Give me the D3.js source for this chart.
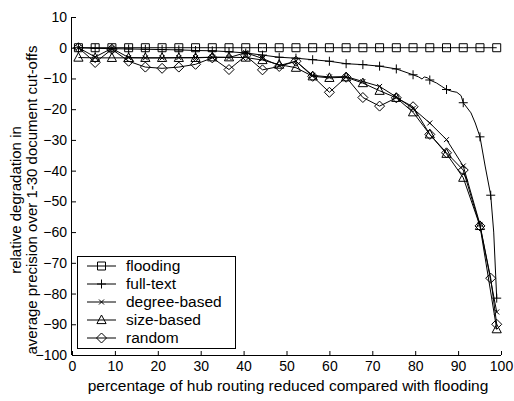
<!DOCTYPE html>
<html lang="en">
<head>
  <meta charset="UTF-8">
  <title>Relative degradation vs hub routing reduction</title>
  <script src="https://d3js.org/d3.v7.min.js"></script>
  <style>
    body {
      margin: 0;
      padding: 0;
      background: #fff;
      font-family: "Liberation Sans", Arial, sans-serif;
    }
    .axis text {
      font-family: "Liberation Sans", Arial, sans-serif;
      font-size: 14px;
      fill: #000;
    }
    .axis path, .axis line {
      stroke: #000;
    }
    .label {
      font-size: 15.5px;
      fill: #000;
    }
  </style>
</head>
<body>
  <div id="chart"></div>

  <script>
    // x positions of the plotted points (percentage of hub routing reduced)
    const xs = [1.5, 5.4, 9.3, 13.2, 17.1, 21, 24.9, 28.8, 32.7, 36.6, 40.5, 44.4, 48.3,
                52.2, 56.1, 60, 63.9, 67.8, 71.7, 75.6, 79.5, 83.4, 87.3, 91.2, 95.1, 99];
    const xsTail = [1.5, 5.4, 9.3, 13.2, 17.1, 21, 24.9, 28.8, 32.7, 36.6, 40.5, 44.4, 48.3,
                    52.2, 56.1, 60, 63.9, 67.8, 71.7, 75.6, 79.5, 83.4, 87.3, 91.2, 95.1, 97.6, 99];

    const flooding = [0, 0, 0, 0, 0, 0, 0, 0, 0, 0, 0, 0, 0, 0, 0, 0, 0, 0, 0, 0, 0, 0, 0, 0, 0, 0];
    const fullText = [0, -0.2, -0.3, -0.4, -0.5, -0.6, -0.7, -0.9, -1.0, -1.3, -1.7, -2.4, -3.1,
                      -3.4, -3.9, -4.4, -5.2, -5.5, -6.0, -6.9, -8.8, -10.5, -13.6, -17.9, -29, -48, -81.5];
    // unmarked bends of the full-text curve
    const fullTextBendX = [80.8, 81.6, 82.1, 82.9, 85, 86.2, 88.6, 89.7, 90.7, 93, 94, 96.3, 98.3];
    const fullTextBendY = [-9.5, -10.2, -9.5, -9.8, -11.5, -12.6, -14.2, -14.5, -15.6, -21.2, -24.5, -38.5, -60];
    const degreeBased = [0, -3.0, -0.2, -3.2, -3.3, -3.3, -3.2, -3.2, -3.1, -3.2, -1.6, -3.5, -5.8,
                         -4.4, -9.0, -9.5, -9.4, -11.0, -12.6, -16.0, -19.8, -24.5, -29.9, -38.5, -57.5, -86];
    const sizeBased = [-3.2, -3.3, -3.3, -3.3, -3.3, -3.3, -3.3, -3.3, -3.1, -3.1, -3.2, -4.0, -5.5,
                       -6.5, -9.3, -9.8, -9.6, -11.5, -14.0, -16.3, -21.0, -28.2, -34.5, -42.3, -58, -91.6];
    const random = [0, -4.8, -0.5, -4.4, -6.3, -6.7, -6.3, -5.4, -3.3, -7.1, -2.6, -7.2, -6.1,
                    -4.4, -9.3, -14.5, -9.6, -16.2, -19.0, -16.3, -19.2, -28.2, -34.2, -39.8, -58, -75, -90];

    const seriesNames = ["flooding", "full-text", "degree-based", "size-based", "random"];
    const xTicks = [0, 10, 20, 30, 40, 50, 60, 70, 80, 90, 100];
    const yTicks = [10, 0, -10, -20, -30, -40, -50, -60, -70, -80, -90, -100];

    const W = 514, H = 401;

    const svg = d3.select("#chart")
                  .append("svg")
                  .attr("width", W)
                  .attr("height", H);

    const x = d3.scaleLinear().domain([0, 100]).range([72, 501]);
    const y = d3.scaleLinear().domain([-100, 10]).range([355, 17]);

    // marker shapes
    const markers = {
      square: "M-4,-4H4V4H-4Z",
      plus: "M-4.5,0H4.5M0,-4.5V4.5",
      cross: "M-2.5,-2.5L2.5,2.5M-2.5,2.5L2.5,-2.5",
      triangle: "M0,-5L4.6,3.6H-4.6Z",
      diamond: "M0,-5L5,0L0,5L-5,0Z"
    };

    const pts = (xv, yv) => xv.map((d, i) => [d, yv[i]]);

    const ftLine = pts(xsTail, fullText).concat(pts(fullTextBendX, fullTextBendY))
                                         .sort((a, b) => a[0] - b[0]);

    const series = [
      { name: seriesNames[0], line: pts(xs, flooding), marks: pts(xs, flooding), m: "square" },
      { name: seriesNames[1], line: ftLine, marks: pts(xsTail, fullText), m: "plus" },
      { name: seriesNames[2], line: pts(xs, degreeBased), marks: pts(xs, degreeBased), m: "cross" },
      { name: seriesNames[3], line: pts(xs, sizeBased), marks: pts(xs, sizeBased), m: "triangle" },
      { name: seriesNames[4], line: pts(xsTail, random), marks: pts(xsTail, random), m: "diamond" }
    ];

    // axes (MATLAB style, ticks pointing inward, no box)
    svg.append("g")
       .attr("class", "axis")
       .attr("transform", `translate(0, ${y(-100)})`)
       .call(d3.axisBottom(x).tickValues(xTicks).tickSizeInner(-4).tickSizeOuter(0).tickPadding(6))
       .call(g => g.select(".domain").attr("d", `M${x(0)},0.5H${x(100)}`));

    svg.append("g")
       .attr("class", "axis")
       .attr("transform", `translate(${x(0)}, 0)`)
       .call(d3.axisLeft(y).tickValues(yTicks).tickSizeInner(-4).tickSizeOuter(0).tickPadding(5))
       .call(g => g.select(".domain").attr("d", `M-0.5,${y(10)}V${y(-100)}`));

    const line = d3.line().x(d => x(d[0])).y(d => y(d[1]));

    const plot = svg.append("g");

    series.forEach(s => {
      plot.append("path")
          .datum(s.line)
          .attr("d", line)
          .attr("fill", "none")
          .attr("stroke", "#000")
          .attr("stroke-width", 1);

      plot.selectAll(null)
          .data(s.marks)
          .enter()
          .append("path")
          .attr("d", markers[s.m])
          .attr("transform", d => `translate(${x(d[0])}, ${y(d[1])})`)
          .attr("fill", "none")
          .attr("stroke", "#000")
          .attr("stroke-width", 1);
    });

    // legend
    const legend = svg.append("g");
    legend.append("rect")
          .attr("x", 77.5)
          .attr("y", 256.5)
          .attr("width", 158)
          .attr("height", 92)
          .attr("fill", "#fff")
          .attr("stroke", "#000");

    series.forEach((s, i) => {
      const ly = 266 + i * 18;
      legend.append("line")
            .attr("x1", 87).attr("x2", 116)
            .attr("y1", ly).attr("y2", ly)
            .attr("stroke", "#000");
      legend.append("path")
            .attr("d", markers[s.m])
            .attr("transform", `translate(101.5, ${ly})`)
            .attr("fill", "none")
            .attr("stroke", "#000");
      legend.append("text")
            .attr("class", "label")
            .attr("x", 126)
            .attr("y", ly)
            .attr("dy", "0.35em")
            .text(s.name);
    });

    // axis titles
    svg.append("text")
       .attr("class", "label")
       .attr("x", 288)
       .attr("y", 391)
       .attr("text-anchor", "middle")
       .text("percentage of hub routing reduced compared with flooding");

    const yl = svg.append("text")
       .attr("class", "label")
       .attr("text-anchor", "middle")
       .style("font-size", "15px")
       .attr("transform", `translate(0, 200) rotate(-90)`);
    yl.append("tspan").attr("x", 0).attr("y", 21).text("relative degradation in");
    yl.append("tspan").attr("x", 0).attr("y", 37).text("average precision over 1-30 document cut-offs");
  </script>
</body>
</html>
